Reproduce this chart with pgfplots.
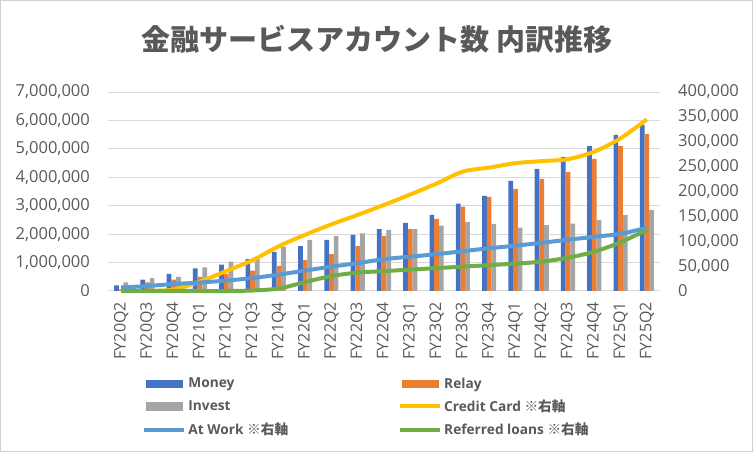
\documentclass[border=0pt]{standalone}
\usepackage{fontspec}
\setmainfont{Open Sans}
\newfontfamily\cjk{Noto Sans CJK JP}
\usepackage{pgfplots}
\pgfplotsset{compat=1.18}
\usepackage{pgfplotstable}
\definecolor{moneyc}{HTML}{4472C4}
\definecolor{relayc}{HTML}{ED7D31}
\definecolor{investc}{HTML}{A5A5A5}
\definecolor{credc}{HTML}{FFC000}
\definecolor{workc}{HTML}{5B9BD5}
\definecolor{loanc}{HTML}{70AD47}
\definecolor{gridc}{HTML}{D9D9D9}
\definecolor{textc}{HTML}{595959}
\definecolor{borderc}{HTML}{D0D0D0}

\pgfplotstableread{
x money relay invest
0 200000 60000 300000
1 400000 300000 450000
2 600000 400000 500000
3 800000 500000 830000
4 930000 600000 1030000
5 1120000 720000 1150000
6 1380000 880000 1560000
7 1580000 1090000 1800000
8 1800000 1300000 1930000
9 1970000 1580000 2030000
10 2180000 1930000 2150000
11 2400000 2180000 2180000
12 2680000 2540000 2300000
13 3070000 2970000 2430000
14 3350000 3310000 2360000
15 3870000 3590000 2230000
16 4300000 3940000 2320000
17 4720000 4180000 2370000
18 5100000 4650000 2500000
19 5490000 5100000 2670000
20 5840000 5520000 2850000
}\bardata

\pgfplotstableread{
x credit atwork referred
0 0 7000 0
1 0 10000 0
2 3000 14000 0
3 19000 17000 0
4 40000 21000 0
5 62000 26000 1000
6 90000 33000 5000
7 113000 41000 18000
8 134000 49000 30000
9 153000 56000 37000
10 173000 64000 40000
11 194000 69000 43000
12 216000 74000 46000
13 240000 80000 49000
14 248000 86000 52000
15 257000 91000 55000
16 261000 97000 59000
17 265000 103000 67000
18 280000 109000 79000
19 307000 115000 98000
20 345000 127000 123000
}\linedata

\begin{document}
\begin{tikzpicture}
\useasboundingbox (0pt,0pt) rectangle (753pt,452pt);
\draw[borderc, line width=1pt] (0.5pt,0.5pt) rectangle (752.5pt,451.5pt);
\node[text=textc, font=\cjk\bfseries\fontsize{29}{33}\selectfont] at (377pt,413pt) {金融サービスアカウント数 内訳推移};

\begin{axis}[
  at={(108pt,161pt)}, anchor=south west,
  scale only axis, width=552pt, height=199pt,
  ybar=0pt, bar width=4.7pt,
  xmin=-0.5, xmax=20.5, ymin=0, ymax=7000000,
  xtick={0,...,20},
  xticklabels={FY20Q2,FY20Q3,FY20Q4,FY21Q1,FY21Q2,FY21Q3,FY21Q4,FY22Q1,FY22Q2,FY22Q3,FY22Q4,FY23Q1,FY23Q2,FY23Q3,FY23Q4,FY24Q1,FY24Q2,FY24Q3,FY24Q4,FY25Q1,FY25Q2},
  ytick={0,1000000,...,7000000},
  scaled y ticks=false,
  /pgf/number format/assume math mode=true,
  /pgf/number format/fixed,
  /pgf/number format/1000 sep={,},
  major tick length=0pt,
  axis x line*=bottom, axis y line*=left,
  y axis line style={draw=none},
  x axis line style={gridc, line width=1pt},
  ymajorgrids, grid style={gridc, line width=1pt},
  yticklabel style={font=\fontsize{16.5}{18}\selectfont, text=textc, anchor=east, inner sep=0pt, xshift=-18pt},
  xticklabel style={font=\fontsize{16}{18}\selectfont, text=textc, rotate=90, anchor=east, inner sep=0pt, xshift=-11pt},
  clip=false,
]
\addplot[fill=moneyc, draw=none] table[x=x, y=money]{\bardata};
\addplot[fill=relayc, draw=none] table[x=x, y=relay]{\bardata};
\addplot[fill=investc, draw=none] table[x=x, y=invest]{\bardata};
\end{axis}

\begin{axis}[
  at={(108pt,161pt)}, anchor=south west,
  scale only axis, width=552pt, height=199pt,
  xmin=-0.5, xmax=20.5, ymin=0, ymax=400000,
  axis x line=none, axis y line*=right,
  y axis line style={draw=none},
  ytick={0,50000,...,400000},
  scaled y ticks=false,
  /pgf/number format/assume math mode=true,
  /pgf/number format/fixed,
  /pgf/number format/1000 sep={,},
  major tick length=0pt,
  yticklabel style={font=\fontsize{16.5}{18}\selectfont, text=textc, anchor=west, inner sep=0pt, xshift=18pt},
  clip=false,
  legend columns=2,
  legend cell align=left,
  legend image code/.code={\draw[#1] (0pt,0pt) -- (40pt,0pt);},
  legend style={draw=none, fill=none, at={(0.062,-0.425)}, anchor=north west, inner sep=0pt,
    font=\bfseries\fontsize{13.7}{16}\selectfont, text=textc, row sep=6pt,
    /tikz/every even column/.append style={column sep=108pt}},
]
\addlegendimage{legend image code/.code={\fill[moneyc] (2pt,-3.8pt) rectangle (38pt,3.8pt);}}
\addlegendentry{Money}
\addlegendimage{legend image code/.code={\fill[relayc] (2pt,-3.8pt) rectangle (38pt,3.8pt);}}
\addlegendentry{Relay}
\addlegendimage{legend image code/.code={\fill[investc] (2pt,-3.8pt) rectangle (38pt,3.8pt);}}
\addlegendentry{Invest}
\addplot[credc, line width=4pt, smooth, tension=0.5] table[x=x, y=credit]{\linedata};
\addlegendentry{Credit Card {\cjk ※右軸}}
\addplot[workc, line width=4pt, smooth, tension=0.5] table[x=x, y=atwork]{\linedata};
\addlegendentry{At Work {\cjk ※右軸}}
\addplot[loanc, line width=4pt, smooth, tension=0.5] table[x=x, y=referred]{\linedata};
\addlegendentry{Referred loans {\cjk ※右軸}}
\end{axis}
\end{tikzpicture}
\end{document}
